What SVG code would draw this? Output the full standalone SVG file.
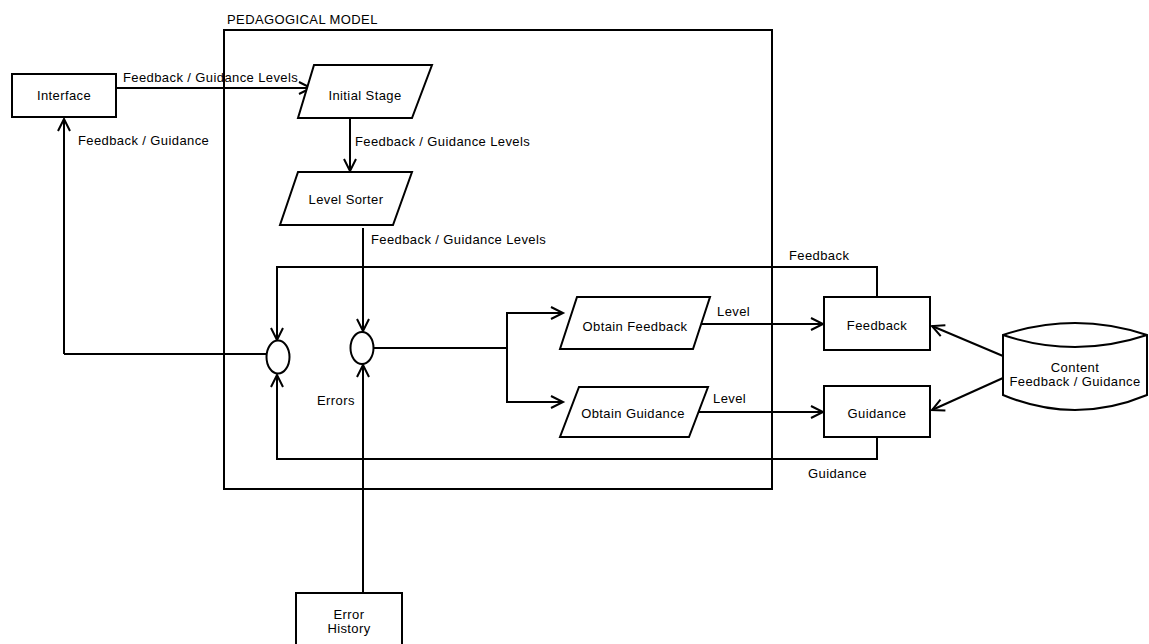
<svg xmlns="http://www.w3.org/2000/svg" width="1149" height="644" viewBox="0 0 1149 644">
<style>
text{font-family:"Liberation Sans",Arial,sans-serif;font-size:13px;letter-spacing:0.4px;fill:#000}
.c{text-anchor:middle}
.s{fill:#fff;stroke:#000;stroke-width:2}
.l{fill:none;stroke:#000;stroke-width:2}
.a{fill:none;stroke:#000;stroke-width:2;marker-end:url(#arr)}
</style>
<defs>
<marker id="arr" markerUnits="userSpaceOnUse" markerWidth="16" markerHeight="16" refX="13" refY="7" orient="auto" viewBox="0 0 16 14">
<path d="M1,1 L13,7 L1,13" fill="none" stroke="#000" stroke-width="2"/>
</marker>
</defs>
<rect width="1149" height="644" fill="#fff"/>
<g id="pedagogical-model">
<rect x="224" y="30" width="548" height="459" class="l"/>
<text x="227" y="24">PEDAGOGICAL MODEL</text>
</g>
<g id="connectors">
<path class="a" d="M116,88 H311"/>
<text x="123" y="82">Feedback / Guidance Levels</text>
<path class="a" d="M64,354 V119"/>
<text x="78" y="145">Feedback / Guidance</text>
<path class="l" d="M64,354 H266"/>
<path class="a" d="M350,118 V171"/>
<text x="355" y="146">Feedback / Guidance Levels</text>
<path class="a" d="M363,228 V331"/>
<text x="371" y="244">Feedback / Guidance Levels</text>
<path class="a" d="M877,297 V267 H277 V340"/>
<text x="789" y="260">Feedback</text>
<path class="a" d="M877,437 V459 H277 V375"/>
<text x="808" y="478">Guidance</text>
<path class="a" d="M363,593 V365"/>
<text x="317" y="405">Errors</text>
<path class="l" d="M374,348 H507"/>
<path class="a" d="M507,348 V313 H563"/>
<path class="a" d="M507,348 V402 H563"/>
<path class="a" d="M701,324 H823"/>
<text x="717" y="316">Level</text>
<path class="a" d="M699,412 H823"/>
<text x="713" y="403">Level</text>
<path class="a" d="M1003,356 L932,326"/>
<path class="a" d="M1003,378 L932,410"/>
</g>
<g id="interface">
<rect x="12" y="74" width="104" height="43" class="s"/>
<text x="64" y="100" class="c">Interface</text>
</g>
<g id="initial-stage">
<path class="s" d="M314,65 H432 L412,118 H298 Z"/>
<text x="365" y="100" class="c">Initial Stage</text>
</g>
<g id="level-sorter">
<path class="s" d="M298,172 H412 L393,225 H280 Z"/>
<text x="346" y="204" class="c">Level Sorter</text>
</g>
<g id="join-left">
<ellipse cx="278" cy="357" rx="11.5" ry="16.5" class="s"/>
</g>
<g id="join-right">
<ellipse cx="362" cy="348" rx="11.5" ry="16" class="s"/>
</g>
<g id="obtain-feedback">
<path class="s" d="M577,297 H710 L693,349 H560 Z"/>
<text x="635" y="331" class="c">Obtain Feedback</text>
</g>
<g id="obtain-guidance">
<path class="s" d="M579,387 H708 L689,437 H560 Z"/>
<text x="633" y="418" class="c">Obtain Guidance</text>
</g>
<g id="feedback">
<rect x="824" y="297" width="106" height="53" class="s"/>
<text x="877" y="330" class="c">Feedback</text>
</g>
<g id="guidance">
<rect x="824" y="386" width="106" height="51" class="s"/>
<text x="877" y="418" class="c">Guidance</text>
</g>
<g id="content">
<path class="s" d="M1003,335 Q1075,311 1147,335 V395 Q1075,425 1003,395 Z"/>
<path class="l" d="M1003,335 Q1075,359 1147,335"/>
<text x="1075" y="372" class="c">Content</text>
<text x="1075" y="386" class="c">Feedback / Guidance</text>
</g>
<g id="error-history">
<rect x="296" y="593" width="106" height="60" class="s"/>
<text x="349" y="619" class="c">Error</text>
<text x="349" y="633" class="c">History</text>
</g>
</svg>
